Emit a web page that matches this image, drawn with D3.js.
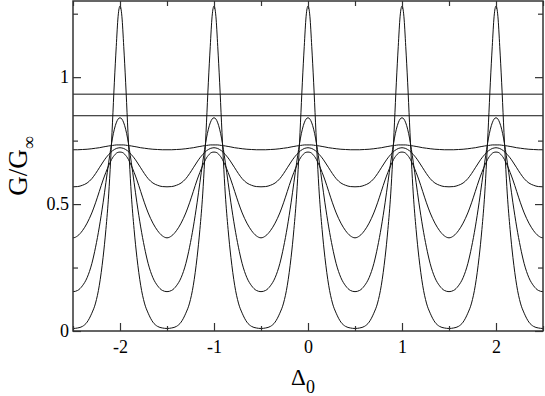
<!DOCTYPE html>
<html>
<head>
<meta charset="utf-8">
<script src="https://cdn.jsdelivr.net/npm/d3@7"></script>
<style>
  body { margin: 0; background: #fff; }
  text { font-family: "Liberation Serif", "DejaVu Serif", serif; fill: #000; }
</style>
</head>
<body>
<script>
var w = 545;
var h = 396;

var margin = {
  top: 1,
  bottom: 65,
  left: 73,
  right: 2
}

var width = w - margin.left - margin.right
var height = h - margin.top - margin.bottom

// one half period, offset from a peak (peaks sit at integer Δ0)
var offsets = [0, 0.02, 0.04, 0.06, 0.08, 0.1, 0.12, 0.15, 0.18, 0.22, 0.26, 0.3, 0.35, 0.4, 0.45, 0.5];
var curveA = [1.28, 1.24, 1.12, 0.98, 0.82, 0.67, 0.54, 0.40, 0.29, 0.18, 0.11, 0.07, 0.035, 0.018, 0.012, 0.01];
var curveB = [0.84, 0.835, 0.82, 0.795, 0.76, 0.715, 0.665, 0.585, 0.505, 0.41, 0.33, 0.265, 0.21, 0.178, 0.16, 0.155];
var curveC = [0.705, 0.704, 0.70, 0.692, 0.682, 0.668, 0.652, 0.625, 0.595, 0.55, 0.505, 0.465, 0.425, 0.395, 0.375, 0.367];
var curveD = [0.722, 0.721, 0.719, 0.715, 0.71, 0.703, 0.695, 0.682, 0.666, 0.643, 0.62, 0.6, 0.583, 0.574, 0.569, 0.568];
var curveE = [0.733, 0.733, 0.733, 0.732, 0.731, 0.73, 0.729, 0.727, 0.725, 0.722, 0.72, 0.718, 0.716, 0.715, 0.714, 0.714];
var flatLines = [0.933, 0.848];
var peaks = [-3, -2, -1, 0, 1, 2, 3];

var xTicks = [-2, -1, 0, 1, 2];
var xTickLabels = ["-2", "-1", "0", "1", "2"];
var xMinor = [-2.5, -1.5, -0.5, 0.5, 1.5, 2.5];
var yTicks = [0, 0.5, 1];
var yMinor = [0.25, 0.75, 1.25];
var yTickLabels = ["0", "0.5", "1"];

var x = d3.scaleLinear()
  .domain([-2.5, 2.5])
  .range([0, width]);

var y = d3.scaleLinear()
  .domain([0, 1.3])
  .range([height, 0]);

var svg = d3.select("body").append("svg")
  .attr("width", w)
  .attr("height", h);

var chart = svg.append("g")
  .attr("transform", "translate(" + margin.left + "," + margin.top + ")");

svg.append("clipPath").attr("id", "clip")
  .append("rect").attr("width", width).attr("height", height);

// build each curve over the visible periods
function tile(vals) {
  var pts = [];
  peaks.forEach(function (p) {
    for (var i = offsets.length - 1; i > 0; i--) pts.push([p - offsets[i], vals[i]]);
    for (var j = 0; j < offsets.length; j++) pts.push([p + offsets[j], vals[j]]);
  });
  return pts.filter(function (d, i, a) { return i == 0 || d[0] > a[i - 1][0]; });
}

var line = d3.line()
  .x(function (d) { return x(d[0]); })
  .y(function (d) { return y(d[1]); })
  .curve(d3.curveMonotoneX);

var curves = [curveA, curveB, curveC, curveD, curveE];
var plot = chart.append("g").attr("clip-path", "url(#clip)");

plot.selectAll(".curve")
  .data(curves)
  .enter()
  .append("path")
  .attr("d", function (d) { return line(tile(d)); })
  .attr("fill", "none")
  .attr("stroke", "#111")
  .attr("stroke-width", 1);

plot.selectAll(".flat")
  .data(flatLines)
  .enter()
  .append("line")
  .attr("x1", 0)
  .attr("x2", width)
  .attr("y1", function (d) { return y(d); })
  .attr("y2", function (d) { return y(d); })
  .attr("stroke", "#111")
  .attr("stroke-width", 1);

// axes, ticks pointing inward on all four sides
function styleAxis(g) {
  g.select(".domain").remove();
  g.selectAll("line").attr("stroke", "#333").attr("stroke-width", 1.2);
  g.selectAll("text").style("font-size", "18px").style("font-family", "Liberation Serif");
}

chart.append("g")
  .attr("transform", "translate(0," + height + ")")
  .call(d3.axisBottom(x).tickValues(xTicks).tickSizeInner(-8).tickPadding(9)
    .tickFormat(function (d, i) { return xTickLabels[i]; }))
  .call(styleAxis);

chart.append("g")
  .attr("transform", "translate(0," + height + ")")
  .call(d3.axisBottom(x).tickValues(xMinor).tickSizeInner(-5).tickFormat(""))
  .call(styleAxis);

chart.append("g")
  .call(d3.axisTop(x).tickValues(xTicks).tickSizeInner(-8).tickFormat(""))
  .call(styleAxis);

chart.append("g")
  .call(d3.axisTop(x).tickValues(xMinor).tickSizeInner(-5).tickFormat(""))
  .call(styleAxis);

chart.append("g")
  .call(d3.axisLeft(y).tickValues(yTicks).tickSizeInner(-8).tickPadding(4)
    .tickFormat(function (d, i) { return yTickLabels[i]; }))
  .call(styleAxis);

chart.append("g")
  .call(d3.axisLeft(y).tickValues(yMinor).tickSizeInner(-5).tickFormat(""))
  .call(styleAxis);

chart.append("g")
  .attr("transform", "translate(" + width + ",0)")
  .call(d3.axisRight(y).tickValues(yTicks).tickSizeInner(-8).tickFormat(""))
  .call(styleAxis);

chart.append("g")
  .attr("transform", "translate(" + width + ",0)")
  .call(d3.axisRight(y).tickValues(yMinor).tickSizeInner(-5).tickFormat(""))
  .call(styleAxis);

chart.append("rect")
  .attr("width", width)
  .attr("height", height)
  .attr("fill", "none")
  .attr("stroke", "#333")
  .attr("stroke-width", 1.5);

// axis titles
var xt = svg.append("text")
  .attr("x", margin.left + x(0) - 5)
  .attr("y", 385)
  .attr("text-anchor", "middle")
  .style("font-size", "23px");
xt.append("tspan").text("Δ");
xt.append("tspan").attr("dy", 8).style("font-size", "18px").text("0");

var yt = svg.append("text")
  .attr("transform", "translate(27,166) rotate(-90)")
  .attr("text-anchor", "middle")
  .style("font-size", "27px");
yt.append("tspan").text("G/G");
yt.append("tspan").attr("dy", 8).style("font-size", "18px").text("∞");
</script>
</body>
</html>
